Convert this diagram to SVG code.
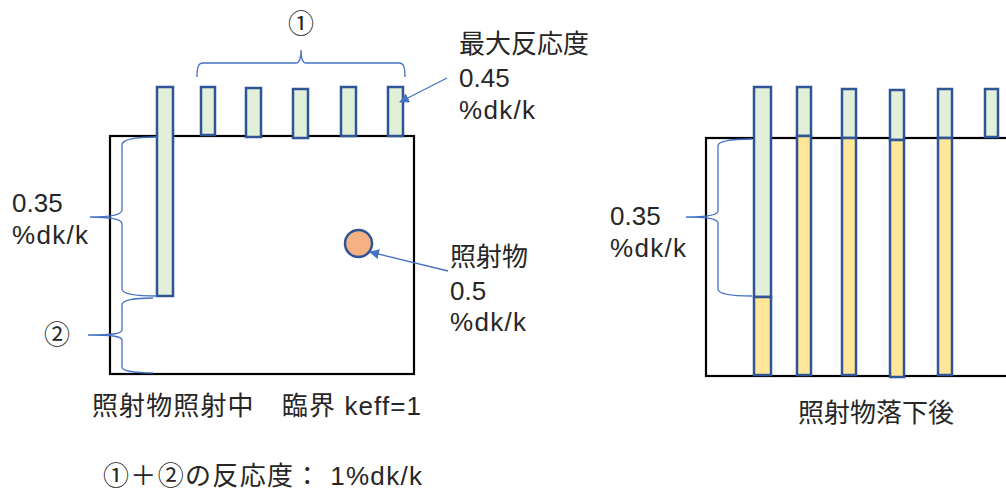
<svg xmlns="http://www.w3.org/2000/svg" width="1006" height="491" viewBox="0 0 1006 491">
<defs>
<style>
.box{fill:none;stroke:#000;stroke-width:2.2}
.g{fill:#E2F0D9;stroke:#2F5597;stroke-width:2.5}
.y{fill:#FFE699;stroke:#2F5597;stroke-width:2.5}
.ball{fill:#F4B183;stroke:#2F5597;stroke-width:2.5}
.br{fill:none;stroke:#4472C4;stroke-width:1.3}
.ar{fill:none;stroke:#4472C4;stroke-width:1.3;marker-end:url(#ah)}
text{font-family:"Liberation Sans","Noto Sans CJK JP",sans-serif;font-size:26px;fill:#262626}
</style>
<marker id="ah" viewBox="0 0 10 10" refX="9" refY="5" markerWidth="10" markerHeight="10" markerUnits="userSpaceOnUse" orient="auto">
<path d="M0,0 L10,5 L0,10 z" fill="#4472C4"/>
</marker>
</defs>
<g id="left-core">
<rect class="box" x="110" y="136" width="304" height="238"/>
</g>
<g id="left-rods">
<rect class="g" x="157" y="87" width="16" height="209"/>
<rect class="g" x="201" y="87" width="14" height="48"/>
<rect class="g" x="246" y="88" width="15" height="49"/>
<rect class="g" x="293" y="89" width="15" height="49"/>
<rect class="g" x="341" y="87" width="15" height="49"/>
<rect class="g" x="388" y="87" width="15" height="49"/>
</g>
<g id="irradiated-object">
<circle class="ball" cx="358.5" cy="243.5" r="13.5"/>
</g>
<g id="right-core">
<rect class="box" x="706" y="138" width="310" height="238"/>
</g>
<g id="right-rods">
<rect class="g" x="754" y="87" width="17" height="210"/>
<rect class="y" x="754" y="297" width="17" height="78"/>
<rect class="g" x="797" y="87" width="14" height="49"/>
<rect class="y" x="797" y="136" width="14" height="239"/>
<rect class="g" x="842" y="89" width="14" height="49"/>
<rect class="y" x="842" y="138" width="14" height="237"/>
<rect class="g" x="890" y="90" width="14" height="50"/>
<rect class="y" x="890" y="140" width="14" height="237"/>
<rect class="g" x="938" y="89" width="14" height="49"/>
<rect class="y" x="938" y="138" width="14" height="237"/>
<rect class="g" x="985" y="89" width="13" height="48"/>
</g>
<g id="connectors">
<path class="br" d="M197,77 C197,68 198,63 203,63 L296,63 C299,63 301,58 301,50 C301,58 303,63 306,63 L399,63 C404,63 405,68 405,77"/>
<path class="br" d="M157,137 C135,137 122,139 122,145 L122,210 C122,215 110,217 90,217 C110,217 122,219 122,224 L122,289 C122,294 135,296 157,296"/>
<path class="br" d="M153,298 C135,298 122,300 122,305 L122,330 C122,334 110,335 88,335 C110,335 122,336 122,340 L122,367 C122,371 135,373 153,373"/>
<path class="br" d="M752,139 C730,139 718,141 718,146 L718,211 C718,215 705,217 686,217 C705,217 718,219 718,223 L718,289 C718,294 730,296 752,296"/>
<line class="ar" x1="447" y1="78" x2="400" y2="102"/>
<line class="ar" x1="448" y1="271" x2="370" y2="252"/>
</g>
<g id="labels">
<text x="301" y="33" text-anchor="middle">①</text>
<text x="459" y="53">最大反応度</text>
<text x="459" y="87">0.45</text>
<text x="459" y="119" textLength="76" lengthAdjust="spacing">%dk/k</text>
<text x="12" y="212">0.35</text>
<text x="12" y="244" textLength="76" lengthAdjust="spacing">%dk/k</text>
<text x="57" y="344" text-anchor="middle">②</text>
<text x="450" y="266">照射物</text>
<text x="450" y="300">0.5</text>
<text x="450" y="331" textLength="76" lengthAdjust="spacing">%dk/k</text>
<text x="610" y="225">0.35</text>
<text x="610" y="257" textLength="76" lengthAdjust="spacing">%dk/k</text>
<text x="92" y="415" textLength="329" lengthAdjust="spacing">照射物照射中　臨界 keff=1</text>
<text x="103" y="485" textLength="319" lengthAdjust="spacing">①＋②の反応度： 1%dk/k</text>
<text x="798" y="422">照射物落下後</text>
</g>
</svg>
